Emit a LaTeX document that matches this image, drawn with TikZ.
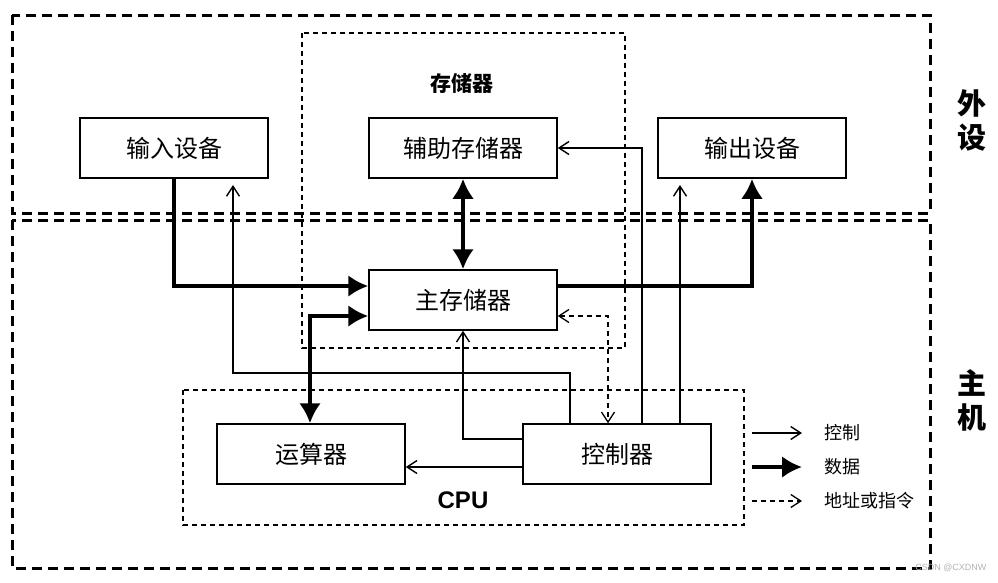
\documentclass[tikz,border=0pt]{standalone}
\usepackage{fontspec}
\setmainfont{Liberation Sans}
\newfontfamily\cjk{Noto Sans CJK SC}
\usetikzlibrary{arrows.meta}
\begin{document}
\begin{tikzpicture}[x=1pt,y=-1pt,
 box/.style={draw,line width=1.5pt,minimum width=188pt,minimum height=60pt,font=\cjk\fontsize{24}{28}\selectfont,inner sep=0pt},
 thin/.style={line width=1.4pt,-{Straight Barb[length=10pt,width=13pt]}},
 thk/.style={line width=4.5pt,-{Latex[length=20pt,width=22pt]}},
 dsh/.style={line width=1.3pt,dash pattern=on 5pt off 4pt},
 big/.style={line width=3pt,dash pattern=on 10pt off 6pt}]
\useasboundingbox (0,0) rectangle (998,582);
\draw[big] (12,15) rectangle (930,213);
\draw[big] (12,220) rectangle (930,568);
\draw[dsh] (302,33) rectangle (625,348);
\draw[dsh] (183,390) rectangle (744,525);
\node[font=\cjk\bfseries\fontsize{21}{24}\selectfont] (lm) at (462,83) {存储器};
\node[font=\bfseries\fontsize{24}{28}\selectfont] (lc) at (463,500) {CPU};
\node[font=\cjk\bfseries\fontsize{29}{34}\selectfont,align=center] (lw) at (972,120) {外\\设};
\node[font=\cjk\bfseries\fontsize{29}{34}\selectfont,align=center] (lz) at (972,400) {主\\机};
\node[box] (in) at (174,148) {输入设备};
\node[box] (aux) at (463,148) {辅助存储器};
\node[box] (out) at (752,148) {输出设备};
\node[box] (mem) at (463,300) {主存储器};
\node[box] (alu) at (311,454) {运算器};
\node[box] (cu) at (617,454) {控制器};
\draw[thk] (in.south) |- (mem.west|-0,286);
\draw[thk,{Latex[length=20pt,width=22pt]}-{Latex[length=20pt,width=22pt]}] (alu.north-|310,0) |- (mem.west|-0,316);
\draw[thk,{Latex[length=20pt,width=22pt]}-{Latex[length=20pt,width=22pt]}] (aux.south) -- (mem.north);
\draw[thk] (mem.east|-0,286) -| (out.south);
\draw[thin] (cu.north-|570,0) |- (233,373) -- (233,185);
\draw[thin] (cu.west|-0,439) -| (mem.south);
\draw[thin] (cu.north-|642,0) |- (aux.east);
\draw[thin] (cu.north-|680,0) -- (680,185);
\draw[thin] (cu.west|-0,467) -- (alu.east|-0,467);
\draw[dsh,{Straight Barb[length=10pt,width=13pt]}-{Straight Barb[length=10pt,width=13pt]}] (mem.east|-0,316) -| (cu.north-|608,0);
\coordinate (a1) at (752,433); \coordinate (b1) at (802,433);
\coordinate (a2) at (752,467); \coordinate (b2) at (802,467);
\coordinate (a3) at (752,501); \coordinate (b3) at (802,501);
\draw[thin] (a1) -- (b1);
\draw[thk] (a2) -- (b2);
\draw[dsh,-{Straight Barb[length=10pt,width=13pt]}] (a3) -- (b3);
\node[anchor=west,font=\cjk\fontsize{18}{21}\selectfont] (t1) at (821,433) {控制};
\node[anchor=west,font=\cjk\fontsize{18}{21}\selectfont] (t2) at (821,467) {数据};
\node[anchor=west,font=\cjk\fontsize{18}{21}\selectfont] (t3) at (821,501) {地址或指令};
\node[anchor=east,font=\fontsize{9}{10}\selectfont,text=gray!60] (wm) at (990,568) {CSDN @CXDNW};
\end{tikzpicture}
\end{document}
